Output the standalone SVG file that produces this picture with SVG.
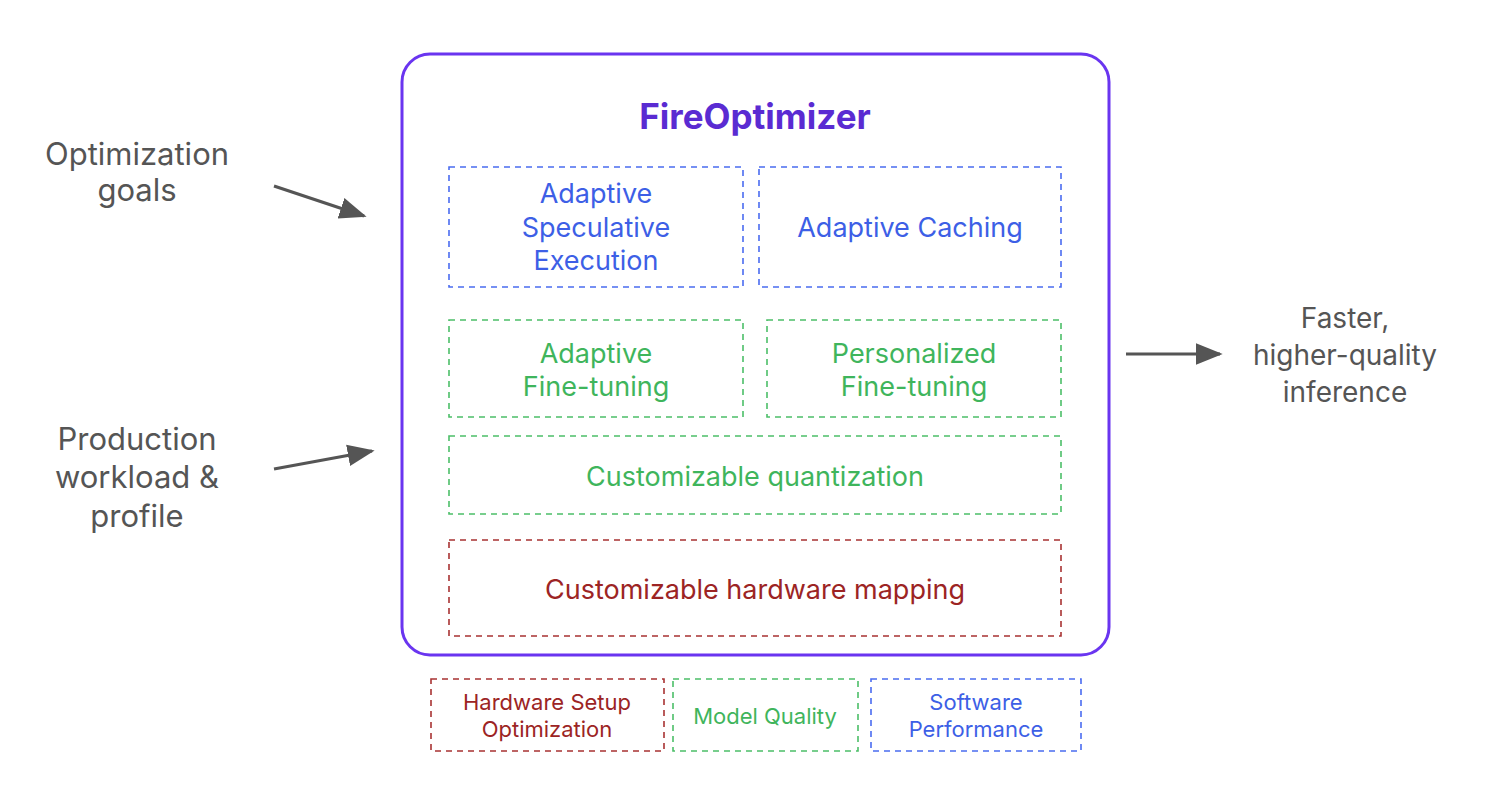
<svg xmlns="http://www.w3.org/2000/svg" width="1512" height="792" viewBox="0 0 1512 792">
<style>
text{font-family:Inter,"Noto Sans",sans-serif;text-anchor:middle;dominant-baseline:central}
.g{fill:#555;font-size:31px}
.gR{fill:#555;font-size:28px}
.in{font-size:27px}
.lg{font-size:22px}
.b{fill:#3d5fe6}.bs{stroke:#4a6cf0}
.gr{fill:#3fb55c}.grs{stroke:#4cbf68}
.r{fill:#9c2424}.rs{stroke:#a83232}
.d{fill:none;stroke-width:1.6;stroke-dasharray:6 5}
.c{stroke:#555;stroke-width:3;fill:none}
</style>
<defs>
<marker id="ah2" viewBox="0 0 10 10" refX="9" refY="5" markerWidth="9" markerHeight="9" orient="auto">
<path d="M0,1 L10,5 L0,9 z" fill="#555"/>
</marker>
</defs>
<rect width="1512" height="792" fill="#fff"/>
<g id="fireoptimizer">
<rect x="402" y="54" width="707" height="601" rx="28" fill="none" stroke="#6a35f0" stroke-width="3"/>
<text x="755" y="116" font-size="35" font-weight="700" fill="#5a2bd2">FireOptimizer</text>
</g>
<g id="ase"><rect class="d bs" x="449" y="167" width="294" height="120"/>
<text class="in b" x="596" y="193">Adaptive</text><text class="in b" x="596" y="227">Speculative</text><text class="in b" x="596" y="260">Execution</text></g>
<g id="ac"><rect class="d bs" x="759" y="167" width="302" height="120"/>
<text class="in b" x="910" y="227">Adaptive Caching</text></g>
<g id="aft"><rect class="d grs" x="449" y="320" width="294" height="97"/>
<text class="in gr" x="596" y="353">Adaptive</text><text class="in gr" x="596" y="386">Fine-tuning</text></g>
<g id="pft"><rect class="d grs" x="767" y="320" width="294" height="97"/>
<text class="in gr" x="914" y="353">Personalized</text><text class="in gr" x="914" y="386">Fine-tuning</text></g>
<g id="cq"><rect class="d grs" x="449" y="436" width="612" height="78"/>
<text class="in gr" x="755" y="476">Customizable quantization</text></g>
<g id="chm"><rect class="d rs" x="449" y="540" width="612" height="96"/>
<text class="in r" x="755" y="589">Customizable hardware mapping</text></g>
<g id="goals"><text class="g" x="137" y="153">Optimization</text><text class="g" x="137" y="189">goals</text></g>
<g id="workload"><text class="g" x="137" y="438">Production</text><text class="g" x="137" y="476">workload &amp;</text><text class="g" x="137" y="515">profile</text></g>
<g id="output"><text class="gR" x="1345" y="318">Faster,</text><text class="gR" x="1345" y="355">higher-quality</text><text class="gR" x="1345" y="392">inference</text></g>
<g id="leg-hw"><rect class="d rs" x="431" y="679" width="233" height="72"/>
<text class="lg r" x="547" y="702">Hardware Setup</text><text class="lg r" x="547" y="729">Optimization</text></g>
<g id="leg-mq"><rect class="d grs" x="673" y="679" width="185" height="72"/>
<text class="lg gr" x="765" y="716">Model Quality</text></g>
<g id="leg-sp"><rect class="d bs" x="871" y="679" width="210" height="72"/>
<text class="lg b" x="976" y="702">Software</text><text class="lg b" x="976" y="729">Performance</text></g>
<g id="connectors">
<line class="c" x1="274" y1="186" x2="364" y2="216" marker-end="url(#ah2)"/>
<line class="c" x1="274" y1="469" x2="372" y2="451" marker-end="url(#ah2)"/>
<line class="c" x1="1126" y1="354" x2="1220" y2="354" marker-end="url(#ah2)"/>
</g>
</svg>
